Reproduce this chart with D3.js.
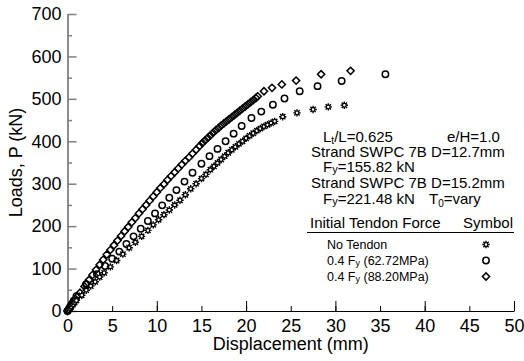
<!DOCTYPE html>
<html>
<head>
<meta charset="utf-8">
<script src="https://cdn.jsdelivr.net/npm/d3@7"></script>
<style>
  html, body { margin: 0; padding: 0; background: #fff; }
  svg { display: block; font-family: "Liberation Sans", Arial, sans-serif; }
</style>
</head>
<body>
<div id="chart"></div>
<script>
// ── Data ────────────────────────────────────────────────────
// [displacement (mm), load (kN)]
var noTendon = [
  [0, 0], [0.1, 2], [0.25, 6], [0.4, 10], [0.6, 15], [0.8, 20], [1.0, 25],
  [1.6, 37], [2.1, 49], [2.6, 59], [3.1, 69], [3.6, 80], [4.1, 90], [4.8, 104],
  [5.5, 119], [6.2, 134], [6.9, 149], [7.6, 162], [8.3, 176], [9.0, 190],
  [9.6, 203], [10.2, 215], [10.8, 227], [11.4, 238], [12.0, 250], [12.6, 261],
  [13.2, 274], [13.8, 288], [14.4, 300], [15.0, 312], [15.5, 322], [16.0, 333],
  [16.4, 341], [16.8, 349], [17.2, 357], [17.6, 365], [18.0, 373], [18.4, 380],
  [18.8, 387], [19.2, 394], [19.6, 400], [20.0, 407], [20.4, 413], [20.8, 419],
  [21.2, 425], [21.6, 430], [22.0, 435], [22.4, 439], [22.8, 443], [23.2, 447],
  [24.1, 458], [25.7, 467], [27.5, 475], [29.2, 481], [31.0, 485]
];

var tendon6272 = [
  [0, 0], [0.15, 5], [0.3, 10], [0.5, 17], [0.7, 24], [1.0, 35], [2.1, 63],
  [3.3, 87], [4.2, 106], [5.0, 123], [5.8, 140], [6.6, 158], [7.4, 176],
  [8.2, 194], [9.0, 212], [9.8, 230], [10.6, 249], [11.4, 267], [12.2, 285],
  [13.1, 305], [14.0, 326], [15.0, 347], [15.9, 365], [16.8, 382], [17.7, 400],
  [18.6, 418], [19.5, 436], [20.6, 455], [21.7, 470], [23.0, 486], [24.3, 501],
  [26.0, 518], [28.0, 530], [30.7, 542], [35.6, 558]
];

var tendon8820 = [
  [0, 0], [0.1, 3], [0.2, 6], [0.35, 11], [0.5, 16], [0.7, 22], [0.9, 28],
  [1.1, 34], [1.4, 43], [1.9, 58], [2.1, 64], [2.4, 73], [2.8, 85], [3.2, 97],
  [3.6, 109], [4.0, 121], [4.4, 133], [4.8, 144], [5.2, 155], [5.6, 166],
  [6.0, 177], [6.4, 188], [6.8, 198], [7.2, 209], [7.6, 219], [8.0, 230],
  [8.4, 240], [8.8, 250], [9.2, 260], [9.6, 270], [10.0, 280], [10.4, 290],
  [10.8, 299], [11.2, 309], [11.6, 318], [12.0, 327], [12.4, 336], [12.8, 345],
  [13.2, 354], [13.6, 362], [14.0, 371], [14.4, 380], [14.8, 389], [15.1, 396],
  [15.4, 402], [15.7, 408], [16.0, 414], [16.3, 420], [16.6, 426], [16.9, 431],
  [17.2, 437], [17.5, 442], [17.8, 447], [18.1, 452], [18.4, 457], [18.7, 462],
  [19.0, 467], [19.3, 472], [19.6, 477], [19.9, 482], [20.2, 487], [20.5, 492],
  [20.8, 497], [21.1, 502], [21.3, 506],
  [22.0, 518], [22.9, 526], [24.0, 534], [25.6, 543], [28.4, 558], [31.7, 566]
];

var xTicks = [0, 5, 10, 15, 20, 25, 30, 35, 40, 45, 50];
var xMajor = [10, 20, 30, 40, 50];
var yTicks = [0, 100, 200, 300, 400, 500, 600, 700];
var yMinor = [50, 150, 250, 350, 450, 550, 650];

var legendItems = [
  { label: "No Tendon", sub: null, shape: "star" },
  { label: "0.4 F", sub: "y", rest: " (62.72MPa)", shape: "circle" },
  { label: "0.4 F", sub: "y", rest: " (88.20MPa)", shape: "diamond" }
];

// ── Setup ───────────────────────────────────────────────────
var W = 524, H = 361;
var svg = d3.select("#chart").append("svg")
  .attr("width", W).attr("height", H);

svg.append("rect").attr("width", W).attr("height", H).attr("fill", "#fff");

var x = d3.scaleLinear().domain([0, 50]).range([67.5, 514]);
var y = d3.scaleLinear().domain([0, 700]).range([311, 14]);

// ── Axes ────────────────────────────────────────────────────
var yAxisG = svg.append("g")
  .attr("transform", "translate(" + x(0) + ",0)")
  .call(d3.axisLeft(y).tickValues(yTicks).tickSizeInner(-9).tickSizeOuter(0).tickPadding(6));
yAxisG.select(".domain").attr("stroke", "#808080").attr("stroke-width", 1.8);
yAxisG.selectAll(".tick line").attr("stroke", "#808080").attr("stroke-width", 1.5);
yAxisG.selectAll("text").attr("font-size", 18).attr("fill", "#000")
  .attr("font-family", "Liberation Sans, Arial, sans-serif");

var yMinorG = svg.append("g")
  .attr("transform", "translate(" + x(0) + ",0)")
  .call(d3.axisLeft(y).tickValues(yMinor).tickSize(-4.5).tickFormat(""));
yMinorG.select(".domain").remove();
yMinorG.selectAll(".tick line").attr("stroke", "#808080").attr("stroke-width", 1.5);

var xAxisG = svg.append("g")
  .attr("transform", "translate(0," + y(0) + ")")
  .call(d3.axisBottom(x).tickValues(xTicks).tickSizeInner(-5).tickSizeOuter(0).tickPadding(8));
xAxisG.select(".domain").attr("stroke", "#000").attr("stroke-width", 1.2);
xAxisG.selectAll(".tick line").attr("stroke", "#000");
xAxisG.selectAll("text").attr("font-size", 18).attr("fill", "#000")
  .attr("font-family", "Liberation Sans, Arial, sans-serif");

var xMajorG = svg.append("g")
  .attr("transform", "translate(0," + y(0) + ")")
  .call(d3.axisBottom(x).tickValues(xMajor).tickSize(-10).tickFormat(""));
xMajorG.select(".domain").remove();
xMajorG.selectAll(".tick line").attr("stroke", "#000");

// Axis titles
svg.append("text")
  .attr("x", (x(0) + x(50)) / 2).attr("y", 350)
  .attr("text-anchor", "middle").attr("font-size", 18)
  .text("Displacement (mm)");

svg.append("text")
  .attr("transform", "translate(22," + ((y(0) + y(700)) / 2) + ") rotate(-90)")
  .attr("text-anchor", "middle").attr("font-size", 18)
  .text("Loads, P (kN)");

// ── Markers ─────────────────────────────────────────────────
function drawMarker(g, shape, cx, cy) {
  if (shape === "circle") {
    g.append("circle").attr("cx", cx).attr("cy", cy).attr("r", 3.2)
      .attr("fill", "none").attr("stroke", "#000").attr("stroke-width", 1.5);
  } else if (shape === "diamond") {
    var r = 3.6;
    g.append("path")
      .attr("d", "M" + cx + "," + (cy - r) + "L" + (cx + r) + "," + cy +
        "L" + cx + "," + (cy + r) + "L" + (cx - r) + "," + cy + "Z")
      .attr("fill", "none").attr("stroke", "#000").attr("stroke-width", 1.5);
  } else {
    var s = 3.7, d = s * 0.72;
    g.append("path")
      .attr("d", "M" + (cx - s) + "," + cy + "L" + (cx + s) + "," + cy +
        "M" + cx + "," + (cy - s) + "L" + cx + "," + (cy + s) +
        "M" + (cx - d) + "," + (cy - d) + "L" + (cx + d) + "," + (cy + d) +
        "M" + (cx - d) + "," + (cy + d) + "L" + (cx + d) + "," + (cy - d))
      .attr("stroke", "#000").attr("stroke-width", 1.4);
    g.append("circle").attr("cx", cx).attr("cy", cy).attr("r", 1.8)
      .attr("fill", "#fff").attr("stroke", "#000").attr("stroke-width", 1.1);
  }
}

function drawSeries(data, shape) {
  var g = svg.append("g").attr("class", "series-" + shape);
  data.forEach(function (d) { drawMarker(g, shape, x(d[0]), y(d[1])); });
}

drawSeries(tendon8820, "diamond");
drawSeries(tendon6272, "circle");
drawSeries(noTendon, "star");

// ── Annotation block ────────────────────────────────────────
var note = svg.append("g").attr("font-size", 15).attr("fill", "#000");

// text with one subscript: base + sub + rest
function subText(g, xx, yy, base, subTxt, rest, shift, subSize) {
  var t = g.append("text").attr("x", xx).attr("y", yy);
  t.append("tspan").text(base);
  t.append("tspan").attr("font-size", subSize || 10).attr("dy", shift).text(subTxt);
  t.append("tspan").attr("dy", -shift).text(rest);
  return t;
}

subText(note, 323, 142, "L", "t", "/L=0.625", 2, 10);
note.append("text").attr("x", 447).attr("y", 142).text("e/H=1.0");
note.append("text").attr("x", 311).attr("y", 157).text("Strand SWPC 7B D=12.7mm");
subText(note, 323, 172, "F", "y", "=155.82 kN", 1, 11);
note.append("text").attr("x", 311).attr("y", 188).text("Strand SWPC 7B D=15.2mm");
subText(note, 323, 204, "F", "y", "=221.48 kN", 1, 11);
subText(note, 429, 204, "T", "0", "=vary", 3, 10);

// ── Legend table ────────────────────────────────────────────
note.append("text").attr("x", 310).attr("y", 228).text("Initial Tendon Force");
note.append("text").attr("x", 513).attr("y", 228).attr("text-anchor", "end").text("Symbol");
svg.append("line").attr("x1", 307).attr("x2", 514).attr("y1", 232.5).attr("y2", 232.5)
  .attr("stroke", "#000").attr("stroke-width", 1.2);

var legG = svg.append("g");
legendItems.forEach(function (item, i) {
  var yy = 249 + i * 16;
  if (item.sub) {
    subText(legG, 327, yy, item.label, item.sub, item.rest, 1, 9).attr("font-size", 12.5);
  } else {
    legG.append("text").attr("x", 327).attr("y", yy).attr("font-size", 12.5).text(item.label);
  }
  drawMarker(legG, item.shape, 486, yy - 4.5);
});
</script>
</body>
</html>
